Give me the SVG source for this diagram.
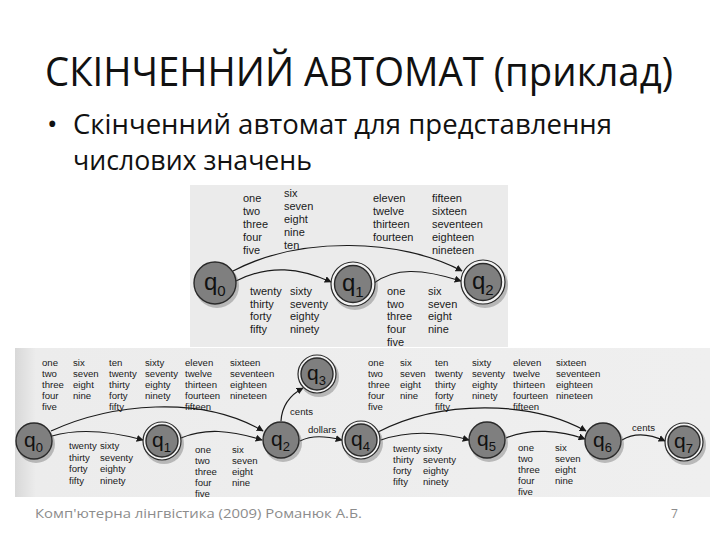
<svg xmlns="http://www.w3.org/2000/svg" width="720" height="540" viewBox="0 0 720 540">
<defs>
<style>
.title{font-family:"Open Sans","Noto Sans","DejaVu Sans",sans-serif;fill:#111}
.lbl{font-family:"Liberation Sans",Arial,sans-serif;fill:#1a1a1a}
.t{font-size:11px}
.b{font-size:9.6px}
.edge{fill:none;stroke:#1a1a1a;stroke-width:1.2}
.node{fill:#7f7f7f;stroke:#2a2a2a;stroke-width:1.4}
.ring{fill:#f2f2f2;stroke:#2a2a2a;stroke-width:1.2}
.shadow{fill:#555;opacity:0.35}
.q{font-family:"Liberation Sans",Arial,sans-serif;fill:#111}
</style>
<marker id="ah" viewBox="0 0 10 10" refX="9" refY="5" markerWidth="7" markerHeight="7" markerUnits="userSpaceOnUse" orient="auto">
<path d="M0,0 L10,5 L0,10 Z" fill="#1a1a1a"/>
</marker>
<linearGradient id="bg2" x1="0" y1="0" x2="1" y2="0">
<stop offset="0" stop-color="#d8d8d8"/>
<stop offset="0.03" stop-color="#ececec"/>
<stop offset="1" stop-color="#efefef"/>
</linearGradient>
</defs>
<rect width="720" height="540" fill="#ffffff"/>

<g id="title">
<text class="title" x="45" y="86" font-size="41" textLength="628" lengthAdjust="spacingAndGlyphs">СКІНЧЕННИЙ АВТОМАТ (приклад)</text>
<text class="title" x="47" y="134" font-size="28">•</text>
<text class="title" x="73" y="134" font-size="28" textLength="539" lengthAdjust="spacingAndGlyphs">Скінченний автомат для представлення</text>
<text class="title" x="73" y="170" font-size="28" textLength="239" lengthAdjust="spacingAndGlyphs">числових значень</text>
</g>

<!-- picture backgrounds -->
<rect x="190" y="185" width="318" height="162" fill="#ebebeb"/>
<rect x="15" y="348" width="695" height="149" fill="url(#bg2)"/>

<!-- TOP AUTOMATON -->
<g id="top-connectors">
<path class="edge" d="M233,271 C 300,236 400,238 462,271" marker-end="url(#ah)"/>
<path class="edge" d="M236,281 C 270,264 300,268 331,282" marker-end="url(#ah)"/>
<path class="edge" d="M374,283 C 395,268 420,268 461,281" marker-end="url(#ah)"/>
</g>
<g id="top-labels" class="lbl t">
<text x="243" y="202"><tspan x="243">one</tspan><tspan x="243" dy="13">two</tspan><tspan x="243" dy="13">three</tspan><tspan x="243" dy="13">four</tspan><tspan x="243" dy="13">five</tspan></text>
<text x="284" y="197"><tspan x="284">six</tspan><tspan x="284" dy="13">seven</tspan><tspan x="284" dy="13">eight</tspan><tspan x="284" dy="13">nine</tspan><tspan x="284" dy="13">ten</tspan></text>
<text x="373" y="202"><tspan x="373">eleven</tspan><tspan x="373" dy="13">twelve</tspan><tspan x="373" dy="13">thirteen</tspan><tspan x="373" dy="13">fourteen</tspan></text>
<text x="432" y="202"><tspan x="432">fifteen</tspan><tspan x="432" dy="13">sixteen</tspan><tspan x="432" dy="13">seventeen</tspan><tspan x="432" dy="13">eighteen</tspan><tspan x="432" dy="13">nineteen</tspan></text>
<text x="250" y="295"><tspan x="250">twenty</tspan><tspan x="250" dy="12.7">thirty</tspan><tspan x="250" dy="12.7">forty</tspan><tspan x="250" dy="12.7">fifty</tspan></text>
<text x="290" y="295"><tspan x="290">sixty</tspan><tspan x="290" dy="12.7">seventy</tspan><tspan x="290" dy="12.7">eighty</tspan><tspan x="290" dy="12.7">ninety</tspan></text>
<text x="387" y="295"><tspan x="387">one</tspan><tspan x="387" dy="12.7">two</tspan><tspan x="387" dy="12.7">three</tspan><tspan x="387" dy="12.7">four</tspan><tspan x="387" dy="12.7">five</tspan></text>
<text x="428" y="295"><tspan x="428">six</tspan><tspan x="428" dy="12.7">seven</tspan><tspan x="428" dy="12.7">eight</tspan><tspan x="428" dy="12.7">nine</tspan></text>
</g>
<g id="top-q0">
<circle class="shadow" cx="217" cy="286" r="22"/>
<circle class="node" cx="215" cy="283" r="21"/>
<text class="q" x="204" y="290" font-size="24">q<tspan font-size="15" dy="6">0</tspan></text>
</g>
<g id="top-q1">
<circle class="shadow" cx="355" cy="287" r="23"/>
<circle class="ring" cx="353" cy="284" r="22"/>
<circle class="node" cx="353" cy="284" r="18.5"/>
<text class="q" x="342" y="291" font-size="24">q<tspan font-size="15" dy="6">1</tspan></text>
</g>
<g id="top-q2">
<circle class="shadow" cx="485" cy="285" r="23"/>
<circle class="ring" cx="483" cy="282" r="22"/>
<circle class="node" cx="483" cy="282" r="18.5"/>
<text class="q" x="472" y="289" font-size="24">q<tspan font-size="15" dy="6">2</tspan></text>
</g>

<!-- BOTTOM AUTOMATON -->
<g id="bottom-connectors">
<path class="edge" d="M52,436 C 80,428 110,431 143,440" marker-end="url(#ah)"/>
<path class="edge" d="M51,431 C 110,404 200,394 263,431" marker-end="url(#ah)"/>
<path class="edge" d="M181,438 C 205,428 230,430 262,440" marker-end="url(#ah)"/>
<path class="edge" d="M281,421 C 282,405 290,395 303,388" marker-end="url(#ah)"/>
<path class="edge" d="M300,441 C 312,435 325,436 342,440" marker-end="url(#ah)"/>
<path class="edge" d="M378,432 C 440,400 530,400 586,431" marker-end="url(#ah)"/>
<path class="edge" d="M381,440 C 410,430 440,432 469,440" marker-end="url(#ah)"/>
<path class="edge" d="M506,438 C 530,428 560,430 585,439" marker-end="url(#ah)"/>
<path class="edge" d="M622,440 C 635,432 650,434 665,441" marker-end="url(#ah)"/>
</g>
<g id="bottom-labels" class="lbl b">
<text x="42" y="365.5"><tspan x="42">one</tspan><tspan x="42" dy="11">two</tspan><tspan x="42" dy="11">three</tspan><tspan x="42" dy="11">four</tspan><tspan x="42" dy="11">five</tspan></text>
<text x="73" y="365.5"><tspan x="73">six</tspan><tspan x="73" dy="11">seven</tspan><tspan x="73" dy="11">eight</tspan><tspan x="73" dy="11">nine</tspan></text>
<text x="109" y="365.5"><tspan x="109">ten</tspan><tspan x="109" dy="11">twenty</tspan><tspan x="109" dy="11">thirty</tspan><tspan x="109" dy="11">forty</tspan><tspan x="109" dy="11">fifty</tspan></text>
<text x="145" y="365.5"><tspan x="145">sixty</tspan><tspan x="145" dy="11">seventy</tspan><tspan x="145" dy="11">eighty</tspan><tspan x="145" dy="11">ninety</tspan></text>
<text x="185" y="365.5"><tspan x="185">eleven</tspan><tspan x="185" dy="11">twelve</tspan><tspan x="185" dy="11">thirteen</tspan><tspan x="185" dy="11">fourteen</tspan><tspan x="185" dy="11">fifteen</tspan></text>
<text x="230" y="365.5"><tspan x="230">sixteen</tspan><tspan x="230" dy="11">seventeen</tspan><tspan x="230" dy="11">eighteen</tspan><tspan x="230" dy="11">nineteen</tspan></text>
<text x="69" y="449"><tspan x="69">twenty</tspan><tspan x="69" dy="11.5">thirty</tspan><tspan x="69" dy="11.5">forty</tspan><tspan x="69" dy="11.5">fifty</tspan></text>
<text x="100" y="449"><tspan x="100">sixty</tspan><tspan x="100" dy="11.5">seventy</tspan><tspan x="100" dy="11.5">eighty</tspan><tspan x="100" dy="11.5">ninety</tspan></text>
<text x="195" y="452.5"><tspan x="195">one</tspan><tspan x="195" dy="11">two</tspan><tspan x="195" dy="11">three</tspan><tspan x="195" dy="11">four</tspan><tspan x="195" dy="11">five</tspan></text>
<text x="232" y="452.5"><tspan x="232">six</tspan><tspan x="232" dy="11">seven</tspan><tspan x="232" dy="11">eight</tspan><tspan x="232" dy="11">nine</tspan></text>
<text x="290" y="415">cents</text>
<text x="308" y="433">dollars</text>
<text x="368" y="365.5"><tspan x="368">one</tspan><tspan x="368" dy="11">two</tspan><tspan x="368" dy="11">three</tspan><tspan x="368" dy="11">four</tspan><tspan x="368" dy="11">five</tspan></text>
<text x="400" y="365.5"><tspan x="400">six</tspan><tspan x="400" dy="11">seven</tspan><tspan x="400" dy="11">eight</tspan><tspan x="400" dy="11">nine</tspan></text>
<text x="435" y="365.5"><tspan x="435">ten</tspan><tspan x="435" dy="11">twenty</tspan><tspan x="435" dy="11">thirty</tspan><tspan x="435" dy="11">forty</tspan><tspan x="435" dy="11">fifty</tspan></text>
<text x="472" y="365.5"><tspan x="472">sixty</tspan><tspan x="472" dy="11">seventy</tspan><tspan x="472" dy="11">eighty</tspan><tspan x="472" dy="11">ninety</tspan></text>
<text x="513" y="365.5"><tspan x="513">eleven</tspan><tspan x="513" dy="11">twelve</tspan><tspan x="513" dy="11">thirteen</tspan><tspan x="513" dy="11">fourteen</tspan><tspan x="513" dy="11">fifteen</tspan></text>
<text x="556" y="365.5"><tspan x="556">sixteen</tspan><tspan x="556" dy="11">seventeen</tspan><tspan x="556" dy="11">eighteen</tspan><tspan x="556" dy="11">nineteen</tspan></text>
<text x="393" y="451.5"><tspan x="393">twenty</tspan><tspan x="393" dy="11">thirty</tspan><tspan x="393" dy="11">forty</tspan><tspan x="393" dy="11">fifty</tspan></text>
<text x="423" y="451.5"><tspan x="423">sixty</tspan><tspan x="423" dy="11">seventy</tspan><tspan x="423" dy="11">eighty</tspan><tspan x="423" dy="11">ninety</tspan></text>
<text x="518" y="450.5"><tspan x="518">one</tspan><tspan x="518" dy="11">two</tspan><tspan x="518" dy="11">three</tspan><tspan x="518" dy="11">four</tspan><tspan x="518" dy="11">five</tspan></text>
<text x="555" y="450.5"><tspan x="555">six</tspan><tspan x="555" dy="11">seven</tspan><tspan x="555" dy="11">eight</tspan><tspan x="555" dy="11">nine</tspan></text>
<text x="632" y="431">cents</text>
</g>
<g id="q0">
<circle class="shadow" cx="36" cy="444" r="19"/>
<circle class="node" cx="34" cy="441" r="18"/>
<text class="q" x="24" y="447" font-size="21">q<tspan font-size="13" dy="5">0</tspan></text>
</g>
<g id="q1">
<circle class="shadow" cx="164" cy="444" r="20"/>
<circle class="ring" cx="162" cy="441" r="19"/>
<circle class="node" cx="162" cy="441" r="16"/>
<text class="q" x="152" y="447" font-size="21">q<tspan font-size="13" dy="5">1</tspan></text>
</g>
<g id="q2">
<circle class="shadow" cx="283" cy="443" r="19"/>
<circle class="node" cx="281" cy="440" r="18"/>
<text class="q" x="271" y="446" font-size="21">q<tspan font-size="13" dy="5">2</tspan></text>
</g>
<g id="q3">
<circle class="shadow" cx="319" cy="377" r="20"/>
<circle class="ring" cx="317" cy="374" r="19"/>
<circle class="node" cx="317" cy="374" r="16"/>
<text class="q" x="307" y="380" font-size="21">q<tspan font-size="13" dy="5">3</tspan></text>
</g>
<g id="q4">
<circle class="shadow" cx="363" cy="443" r="20"/>
<circle class="ring" cx="361" cy="440" r="19"/>
<circle class="node" cx="361" cy="440" r="16"/>
<text class="q" x="351" y="446" font-size="21">q<tspan font-size="13" dy="5">4</tspan></text>
</g>
<g id="q5">
<circle class="shadow" cx="489" cy="443" r="19"/>
<circle class="node" cx="487" cy="440" r="18"/>
<text class="q" x="477" y="446" font-size="21">q<tspan font-size="13" dy="5">5</tspan></text>
</g>
<g id="q6">
<circle class="shadow" cx="605" cy="444" r="19"/>
<circle class="node" cx="603" cy="441" r="18"/>
<text class="q" x="593" y="447" font-size="21">q<tspan font-size="13" dy="5">6</tspan></text>
</g>
<g id="q7">
<circle class="shadow" cx="686" cy="445" r="20"/>
<circle class="ring" cx="684" cy="442" r="19"/>
<circle class="node" cx="684" cy="442" r="16"/>
<text class="q" x="674" y="448" font-size="21">q<tspan font-size="13" dy="5">7</tspan></text>
</g>

<g id="footer">
<text class="title" x="35" y="518" font-size="12" style="fill:#8c8c8c" textLength="327" lengthAdjust="spacingAndGlyphs">Комп'ютерна лінгвістика (2009) Романюк А.Б.</text>
<text class="title" x="671" y="518" font-size="12" style="fill:#8c8c8c">7</text>
</g>
</svg>
